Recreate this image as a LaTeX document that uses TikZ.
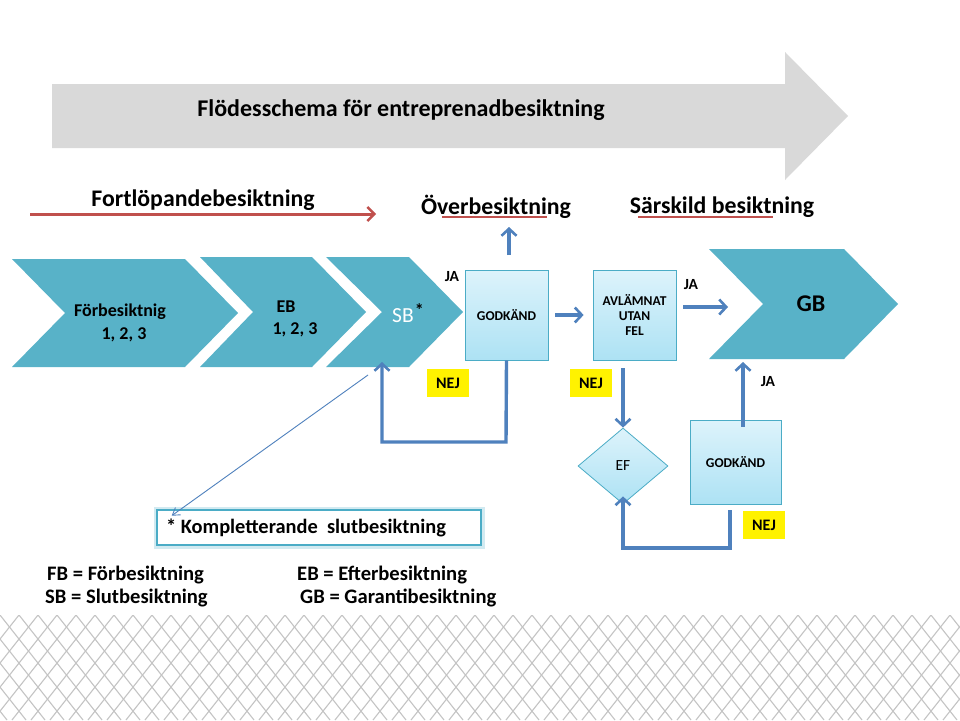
\documentclass[tikz,border=0pt]{standalone}
\usepackage{fontspec}
\setmainfont{Carlito}
\usetikzlibrary{arrows.meta,shapes.geometric}
\definecolor{chev}{HTML}{58B2C8}
\definecolor{boxedge}{HTML}{4BACC6}
\definecolor{flow}{HTML}{4F81BD}
\definecolor{redline}{HTML}{C0504D}
\definecolor{graybar}{HTML}{D9D9D9}
\definecolor{boxtop}{HTML}{DDF3FB}
\definecolor{boxbot}{HTML}{ADE2F4}
\definecolor{lattice}{HTML}{C4C4C4}
\tikzset{
  chevron/.style={fill=chev,draw=none},
  flowarrow/.style={draw=flow,line width=3.4pt,-{Straight Barb[length=7pt,width=15pt,line width=2.6pt]}},
  lightbox/.style={draw=boxedge,line width=0.8pt,top color=boxtop,bottom color=boxbot,minimum width=83pt,minimum height=90pt,inner sep=0pt,font=\fontsize{13.5}{15}\selectfont\bfseries,align=center},
  nejbox/.style={fill=yellow,minimum width=42pt,minimum height=28pt,inner sep=0pt,font=\fontsize{16}{18}\selectfont\bfseries},
  jatext/.style={font=\fontsize{15.5}{17}\selectfont\bfseries,inner sep=0pt},
  heading/.style={font=\fontsize{23.8}{27}\selectfont\bfseries,inner sep=0pt},
  redunder/.style={draw=redline,line width=2.8pt},
  chevtext/.style={font=\fontsize{18}{21}\selectfont\bfseries,inner sep=0pt},
  legend/.style={font=\fontsize{20.6}{24}\selectfont\bfseries,inner sep=0pt,anchor=west},
}
\begin{document}
\begin{tikzpicture}[x=1pt,y=-1pt]
\useasboundingbox (0,0) rectangle (960,720);
\fill[white] (0,0) rectangle (960,720);
% lattice
\begin{scope}
\clip (0,615) rectangle (960,720);
\foreach \k in {-6,...,56} {
  \draw[lattice,line width=1.1pt] (\k*19,615) -- ++(83,105);
  \draw[lattice,line width=1.1pt] (\k*19,615) -- ++(-83,105);
}
\end{scope}
% big gray arrow
\fill[graybar] (52,84) -- (785,84) -- (785,52) -- (848,116) -- (785,180) -- (785,148) -- (52,148) -- cycle;
\node[font=\fontsize{24}{28}\selectfont\bfseries,inner sep=0pt] (title) at (401,110) {Flödesschema för entreprenadbesiktning};
% headings
\node[heading] (fort) at (203,200) {Fortlöpandebesiktning};
\coordinate (redA) at (30,214);
\coordinate (redB) at (376,214);
\draw[draw=redline,line width=3pt,-{Straight Barb[length=7pt,width=14pt,line width=2.4pt]}] (redA) -- (redB);
\node[heading] (over) at (496,207) {Överbesiktning};
\draw[redunder] (442,217) -- (547,217);
\node[heading] (sar) at (722,207) {Särskild besiktning};
\draw[redunder] (638,217) -- (773,217);
% chevrons
\fill[chevron] (12,259) -- (185,259) -- (238,313) -- (185,367) -- (12,367) -- (65,313) -- cycle;
\fill[chevron] (200,257) -- (312,257) -- (366,312) -- (312,367) -- (200,367) -- (253,312) -- cycle;
\fill[chevron] (326,257) -- (409,257) -- (463,312) -- (409,367) -- (326,367) -- (382,312) -- cycle;
\fill[chevron] (709,249) -- (844,249) -- (898,304) -- (844,359) -- (709,359) -- (763,304) -- cycle;
\coordinate (sbbottom) at (382,362);
\coordinate (gbbottom) at (743,362);
\coordinate (gbin) at (728,307);
\node[chevtext] (fb1) at (120,312) {Förbesiktnig};
\node[chevtext] (fb2) at (124,335) {1, 2, 3};
\node[chevtext] (eb1) at (286,307) {EB};
\node[chevtext] (eb2) at (295,330) {1, 2, 3};
\node[font=\fontsize{21.5}{24}\selectfont,text=white,inner sep=0pt] (sb) at (408,313) {SB\kern1pt\raisebox{6pt}{\bfseries\color{black}\fontsize{18}{18}\selectfont*}};
\node[font=\fontsize{24}{27}\selectfont\bfseries,inner sep=0pt] (gb) at (811,304) {GB};
% boxes
\node[lightbox] (god1) at (506.5,315) {GODKÄND};
\node[lightbox] (avl) at (634.5,315) {AVLÄMNAT\\[0pt]UTAN\\[0pt]FEL};
\node[lightbox,minimum width=91pt,minimum height=84pt] (god2) at (735.5,462) {GODKÄND};
\node[diamond,draw=boxedge,line width=0.8pt,top color=boxtop,bottom color=boxbot,minimum width=90pt,minimum height=76pt,inner sep=0pt,font=\fontsize{15.5}{18}\selectfont] (ef) at (623,466) {EF};
% JA / NEJ labels
\node[jatext] (ja1) at (452,277) {JA};
\node[jatext] (ja2) at (691,285) {JA};
\node[jatext] (ja3) at (768,382) {JA};
\node[nejbox] (nej1) at (448,383) {NEJ};
\node[nejbox] (nej2) at (591,383) {NEJ};
\node[nejbox] (nej3) at (764,525) {NEJ};
% arrows
\coordinate (overarrow) at (509,227);
\draw[flowarrow] (509,255) -- (overarrow);
\draw[flowarrow] ([xshift=7pt]god1.east) -- ([xshift=-9pt]avl.west);
\draw[flowarrow] ([xshift=7pt,yshift=8pt]avl.east) -- (gbin);
\draw[flowarrow] (god1.south) -- (506,442) -- (382,442) -- (sbbottom);
\draw[flowarrow] (623,368) -- (ef.north);
\draw[flowarrow] ([yshift=-7pt]god2.north -| 743,0) -- (gbbottom);
\draw[flowarrow] (730,510) -- (730,548) -- (623,548) -- ([yshift=8pt]ef.south);
% Kompletterande box and pointer
\node[draw=boxedge!25,line width=7pt,minimum width=324pt,minimum height=35pt,inner sep=0pt] (kompglow) at (319,527.5) {};
\node[draw=boxedge,line width=2.6pt,fill=white,minimum width=324pt,minimum height=35pt,inner sep=0pt,font=\fontsize{20.4}{23}\selectfont\bfseries] (komp) at (319,527.5) {* Kompletterande\ \ slutbesiktning\hspace*{26pt}};
\coordinate (ptrstart) at (368,375);
\draw[draw=flow,line width=0.9pt,-{Straight Barb[length=7pt,width=9pt,line width=0.9pt]}] (ptrstart) -- ([xshift=16pt,yshift=-7pt]komp.north west);
% legend
\node[legend] (lfb) at (47,575) {FB = Förbesiktning};
\node[legend] (leb) at (297,575) {EB = Efterbesiktning};
\node[legend] (lsb) at (45,598) {SB = Slutbesiktning};
\node[legend] (lgb) at (300,598) {GB = Garantibesiktning};
\end{tikzpicture}
\end{document}
